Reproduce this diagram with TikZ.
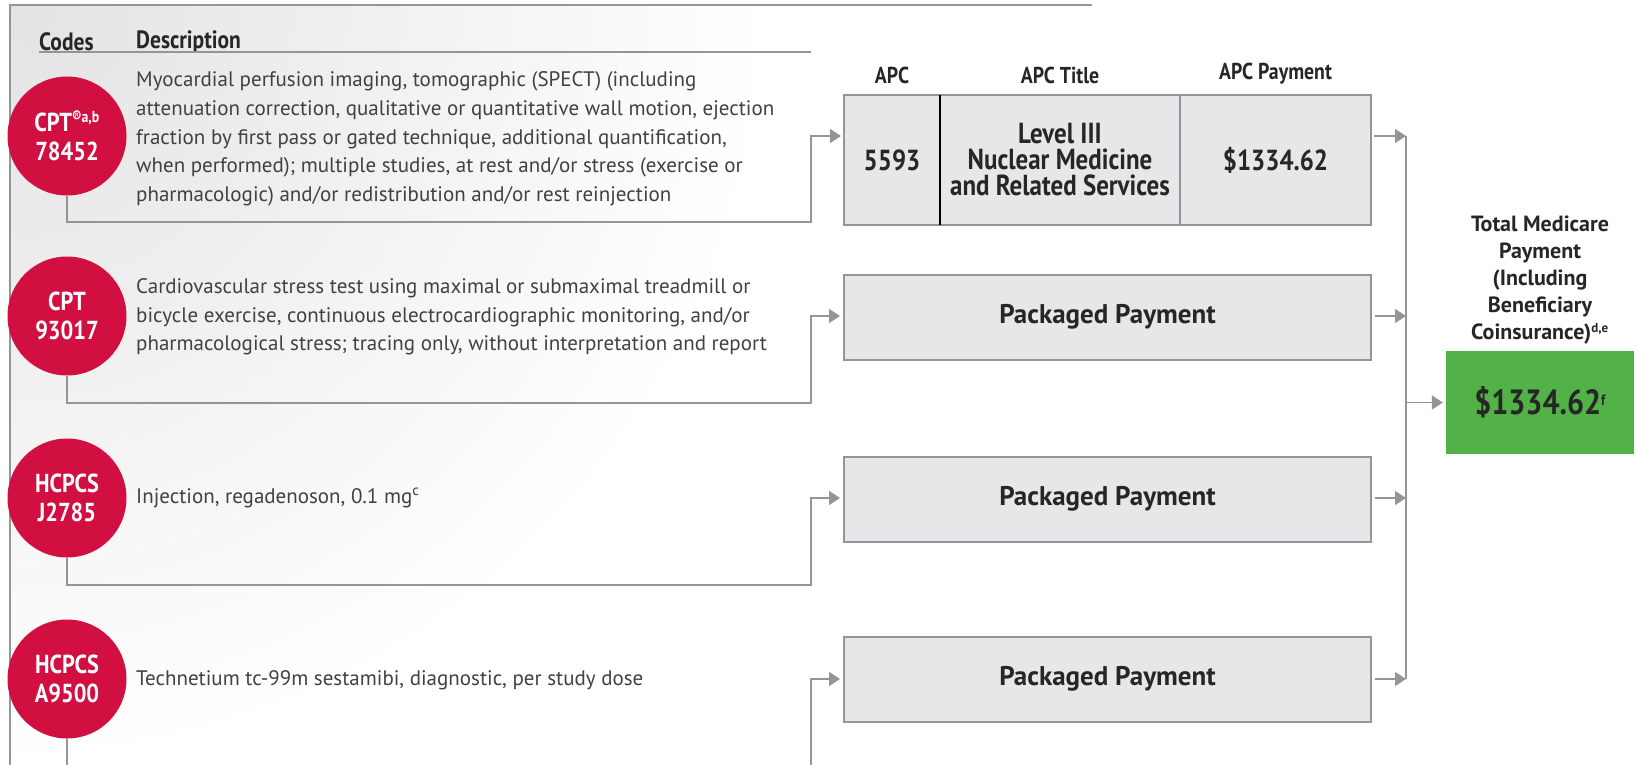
\documentclass[tikz,border=0pt]{standalone}
\usepackage{fontspec}
\setmainfont{PT Sans}
\newfontfamily\condfont[FakeStretch=0.86]{PT Sans}
\usetikzlibrary{arrows.meta,positioning}
\definecolor{codered}{HTML}{D10F41}
\definecolor{linegray}{HTML}{939598}
\definecolor{boxgray}{HTML}{E6E7E8}
\definecolor{totalgreen}{HTML}{52B147}
\definecolor{textgray}{HTML}{414042}
\tikzstyle{code} = [circle, fill=codered, text=white, minimum size=119pt,
    inner sep=0pt, align=center, font=\condfont\bfseries\fontsize{26}{29}\selectfont]
\tikzstyle{desc} = [anchor=west, align=left, inner sep=0pt, text=textgray,
    font=\fontsize{21}{28.7}\selectfont]
\tikzstyle{head} = [inner sep=0pt, text=black!85, font=\condfont\bfseries\fontsize{25}{28}\selectfont]
\tikzstyle{cell} = [rectangle, draw=linegray, line width=2pt, fill=boxgray, outer sep=0pt,
    minimum height=130pt, align=center, text=black!85,
    font=\condfont\bfseries\fontsize{29}{26}\selectfont]
\tikzstyle{paybox} = [rectangle, draw=linegray, line width=2pt, fill=boxgray,
    minimum width=527pt, minimum height=85pt, text=black!85,
    font=\bfseries\fontsize{27}{30}\selectfont]
\tikzstyle{line} = [draw=linegray, line width=1.5pt]
\tikzstyle{arrowline} = [line, -{Triangle[length=11pt,width=14pt]}, shorten >=3pt]

\begin{document}
\begin{tikzpicture}[x=1pt, y=-1pt]
  \useasboundingbox (0,0) rectangle (1637,765);
   % Background and frame
    \begin{scope}
      \clip (10,5) rectangle (1092,765);
      \shade[inner color=black!11, outer color=white] (10,5) circle (760);
    \end{scope}
    \draw[line] (1092,5) -- (10,5) -- (10,765);
   % Column heads
    \node [head, anchor=west] (codes) at (39,42) {Codes};
    \node [head, anchor=west] (description) at (136,42) {Description};
    \draw[line] (39,52) -- (811,52);
   % Place codes
    \node [code] (cpt1) at (67,136) {CPT\textsuperscript{\fontsize{16}{16}\selectfont ®a,b}\\78452};
    \node [code] (cpt2) at (67,316) {CPT\\93017};
    \node [code] (hcpcs1) at (67,498) {HCPCS\\J2785};
    \node [code] (hcpcs2) at (67,679) {HCPCS\\A9500};
   % Place descriptions
    \node [desc] (desc1) at (136,139) {Myocardial perfusion imaging, tomographic (SPECT) (including\\
      attenuation correction, qualitative or quantitative wall motion, ejection\\
      fraction by first pass or gated technique, additional quantification,\\
      when performed); multiple studies, at rest and/or stress (exercise or\\
      pharmacologic) and/or redistribution and/or rest reinjection};
    \node [desc] (desc2) at (136,317) {Cardiovascular stress test using maximal or submaximal treadmill or\\
      bicycle exercise, continuous electrocardiographic monitoring, and/or\\
      pharmacological stress; tracing only, without interpretation and report};
    \node [desc] (desc3) at (136,498) {Injection, regadenoson, 0.1 mg\textsuperscript{c}};
    \node [desc] (desc4) at (136,680) {Technetium tc-99m sestamibi, diagnostic, per study dose};
   % Place APC boxes
    \node [cell, minimum width=96pt] (apc) at (892,160) {5593};
    \node [cell, minimum width=240pt, right=0pt of apc] (title) {Level III\\Nuclear Medicine\\and Related Services};
    \node [cell, minimum width=191pt, right=0pt of title] (pay) {\$1334.62};
    \draw[black, line width=1.5pt] (apc.north east) -- (apc.south east);
    \node [head, font=\condfont\bfseries\fontsize{23}{26}\selectfont, above=11pt of apc] (apchead) {APC};
    \node [head, font=\condfont\bfseries\fontsize{23}{26}\selectfont, above=11pt of title] (titlehead) {APC Title};
    \node [head, font=\condfont\bfseries\fontsize{23}{26}\selectfont, above=11pt of pay] (payhead) {APC Payment};
    \node [paybox] (pack1) at (1107.5,317) {Packaged Payment};
    \node [paybox] (pack2) at (1107.5,499) {Packaged Payment};
    \node [paybox] (pack3) at (1107.5,679) {Packaged Payment};
   % Place total
    \node [rectangle, fill=totalgreen, minimum width=188pt, minimum height=103pt,
      text=black!85, font=\condfont\bfseries\fontsize{35}{38}\selectfont] (total) at (1540,402.5)
      {\$1334.62\textsuperscript{\fontsize{15}{15}\selectfont f}};
    \node [head, align=center, font=\bfseries\fontsize{22}{27}\selectfont, above=6pt of total] (totalhead)
      {Total Medicare\\Payment\\(Including\\Beneficiary\\Coinsurance)\textsuperscript{\fontsize{13}{13}\selectfont d,e}};
   % Draw edges
    \coordinate (join) at (1406,136);
    \coordinate (joinend) at (1406,679);
    \coordinate (end1) at (67,765);
    \coordinate (end2) at (811,765);
    \path [arrowline] (cpt1.south) |- (811,222) |- (apc.west |- cpt1);
    \path [arrowline] (cpt2.south) |- (811,403) |- (pack1.west |- cpt2);
    \path [arrowline] (hcpcs1.south) |- (811,585) |- (pack2.west |- hcpcs1);
    \path [line] (hcpcs2.south) -- (end1);
    \path [arrowline] (end2) |- (pack3.west |- hcpcs2);
    \path [arrowline, shorten >=0pt] ([xshift=3pt]pay.east |- cpt1) -- (join);
    \path [arrowline, shorten >=0pt] ([xshift=3pt]pack1.east |- cpt2) -- (join |- cpt2);
    \path [arrowline, shorten >=0pt] ([xshift=3pt]pack2.east |- hcpcs1) -- (join |- hcpcs1);
    \path [arrowline, shorten >=0pt] ([xshift=3pt]pack3.east |- hcpcs2) -- (joinend);
    \path [line] (join) -- (joinend);
    \path [arrowline] (join |- total) -- (total.west);
  \end{tikzpicture}
\end{document}
